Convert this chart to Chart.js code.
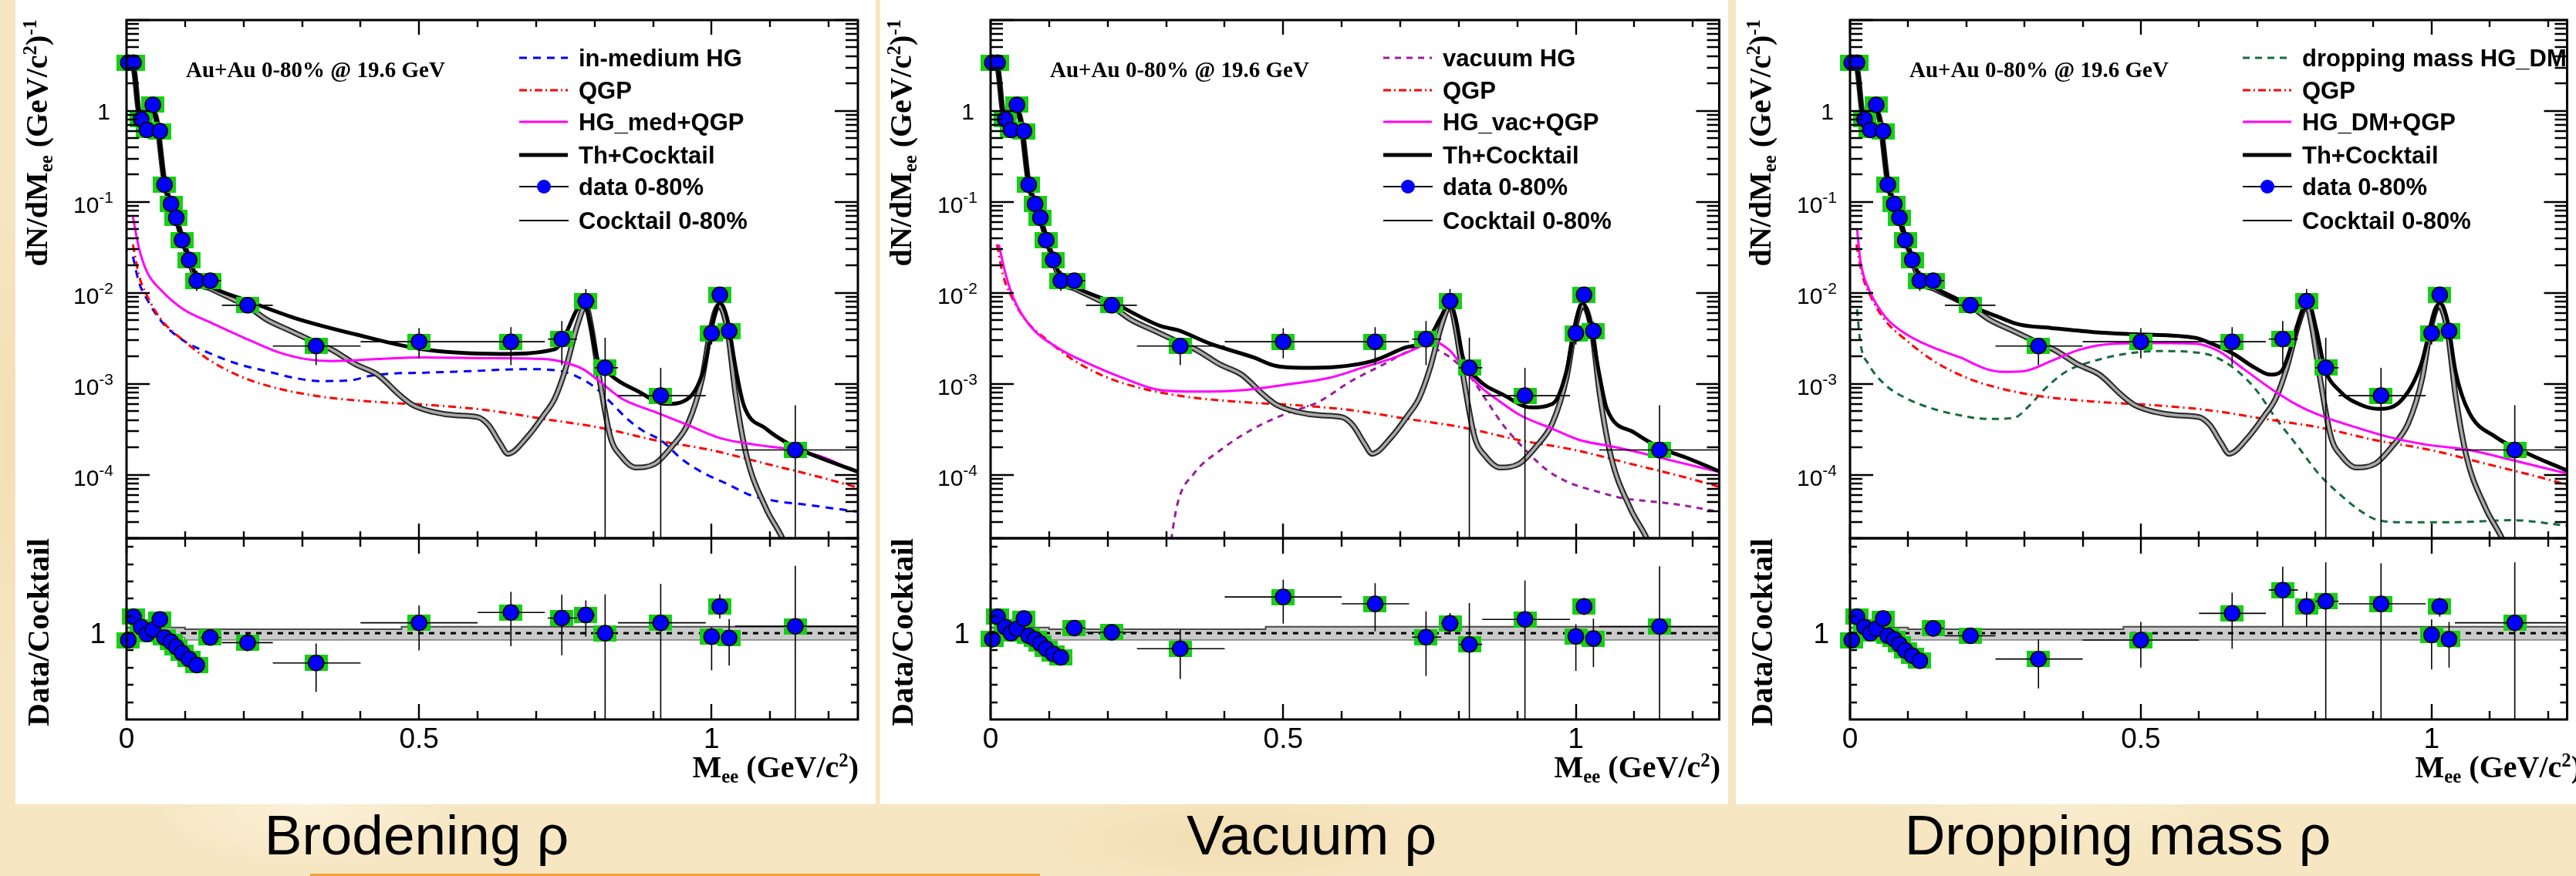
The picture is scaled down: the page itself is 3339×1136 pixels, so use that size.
<!DOCTYPE html>
<html>
<head>
<meta charset="utf-8">
<script src="https://cdn.jsdelivr.net/npm/chart.js@4.4.1/dist/chart.umd.min.js"></script>
<style>
  html, body { margin: 0; padding: 0; }
  body {
    width: 3339px; height: 1136px; overflow: hidden; position: relative;
    background-color: #f6e6c2;
    background-image:
      radial-gradient(ellipse 300px 120px at 12% 92%, rgba(255,250,235,.55), transparent 70%),
      radial-gradient(ellipse 400px 90px at 48% 96%, rgba(236,210,160,.45), transparent 70%),
      radial-gradient(ellipse 350px 110px at 80% 90%, rgba(255,248,228,.5), transparent 70%),
      radial-gradient(ellipse 60px 500px at 0.3% 50%, rgba(240,215,170,.5), transparent 70%);
  }
  .pane { position: absolute; top: 0; height: 1043px; background: #fff; }
  canvas { position: absolute; }
  .abs { position: absolute; white-space: nowrap; }
  .times { font-family: "Liberation Serif", "Times New Roman", serif; font-weight: bold; }
  .ytitle { transform-origin: 0 0; transform: rotate(-90deg); text-align: right; }
  .legrow { position: absolute; display: flex; align-items: center; height: 40px;
    font: bold 31px "Liberation Sans", Arial, sans-serif; white-space: nowrap; line-height: 1; }
  .caption { position: absolute; top: 1046px; font: 73px "Liberation Sans", Arial, sans-serif;
    line-height: 73px; transform: translateX(-50%); white-space: nowrap; color: #000; }
  sub, sup { font-size: 0.62em; line-height: 0; }
  sub { vertical-align: -0.28em; }
  sup { vertical-align: 0.55em; }
</style>
</head>
<body>
<script>
// ---- measured data (same for all three panels) ----
const dataM = [0.003, 0.012, 0.025, 0.035, 0.045, 0.057, 0.065, 0.076, 0.085, 0.095, 0.107, 0.12, 0.143,
  0.207, 0.324, 0.5, 0.657, 0.744, 0.785, 0.818, 0.913, 1.0, 1.014, 1.03, 1.143];
const dataY = [3.4, 3.4, 0.81, 0.62, 1.17, 0.6, 0.155, 0.095, 0.067, 0.038, 0.023, 0.0136, 0.0136,
  0.0073, 0.0026, 0.0029, 0.0029, 0.0031, 0.0081, 0.0015, 0.00074, 0.0036, 0.0095, 0.0038, 0.000187];
const dataYLo = [3.1, 3.1, 0.75, 0.57, 1.08, 0.55, 0.143, 0.087, 0.061, 0.034, 0.02, 0.0105, 0.0115,
  0.0063, 0.0016, 0.0019, 0.0016, 0.0016, 0.0066, 0.000001, 0.000001, 0.0027, 0.0078, 0.003, 0.000001];
const dataYHi = [3.7, 3.7, 0.87, 0.67, 1.26, 0.65, 0.167, 0.103, 0.073, 0.042, 0.026, 0.0175, 0.016,
  0.0085, 0.0032, 0.0041, 0.0042, 0.0049, 0.011, 0.0032, 0.0015, 0.0048, 0.0116, 0.0048, 0.00058];
const dataXLo = [0.003, 0.012, 0.025, 0.035, 0.045, 0.057, 0.065, 0.076, 0.085, 0.095, 0.107, 0.12, 0.127,
  0.163, 0.25, 0.40, 0.60, 0.72, 0.77, 0.80, 0.84, 0.99, 1.01, 1.02, 1.04];
const dataXHi = [0.003, 0.012, 0.025, 0.035, 0.045, 0.057, 0.065, 0.076, 0.085, 0.095, 0.107, 0.12, 0.162,
  0.25, 0.40, 0.60, 0.715, 0.77, 0.80, 0.84, 0.99, 1.01, 1.02, 1.04, 1.25];

// ---- data / cocktail ratios ----
const ratioBrod = [0.92, 1.19, 1.07, 0.99, 1.04, 1.16, 0.95, 0.90, 0.84, 0.77, 0.70, 0.63, 0.95,
  0.89, 0.655, 1.12, 1.24, 1.175, 1.21, 1.0, 1.12, 0.96, 1.31, 0.945, 1.08];
const ratioBrodLo = [0.04, 0.04, 0.04, 0.04, 0.04, 0.04, 0.04, 0.04, 0.04, 0.04, 0.04, 0.05, 0.04,
  0.1, 0.335, 0.32, 0.39, 0.43, 0.25, 1.1, 1.2, 0.39, 0.14, 0.32, 1.1];
const ratioBrodHi = [0.04, 0.04, 0.04, 0.04, 0.04, 0.04, 0.04, 0.04, 0.04, 0.04, 0.04, 0.05, 0.04,
  0.1, 0.225, 0.2, 0.24, 0.27, 0.17, 0.45, 0.45, 0.11, 0.14, 0.22, 0.7];
const ratioVac = [0.93, 1.19, 1.07, 1.0, 1.05, 1.17, 0.97, 0.93, 0.88, 0.82, 0.76, 0.72, 1.06,
  1.01, 0.82, 1.42, 1.34, 0.954, 1.114, 0.87, 1.16, 0.963, 1.31, 0.938, 1.077];
const ratioVacLo = [0.04, 0.04, 0.04, 0.04, 0.04, 0.04, 0.04, 0.04, 0.04, 0.04, 0.04, 0.05, 0.04,
  0.08, 0.35, 0.31, 0.32, 0.45, 0.13, 1.0, 1.2, 0.4, 0.1, 0.33, 1.1];
const ratioVacHi = [0.04, 0.04, 0.04, 0.04, 0.04, 0.04, 0.04, 0.04, 0.04, 0.04, 0.04, 0.05, 0.04,
  0.08, 0.22, 0.2, 0.24, 0.3, 0.12, 0.48, 0.45, 0.14, 0.1, 0.23, 0.7];
const ratioDM = [0.92, 1.19, 1.07, 1.0, 1.05, 1.17, 0.97, 0.93, 0.87, 0.80, 0.74, 0.68, 1.055,
  0.97, 0.70, 0.92, 1.23, 1.5, 1.31, 1.37, 1.34, 0.98, 1.31, 0.93, 1.12];
const ratioDMLo = [0.04, 0.04, 0.04, 0.04, 0.04, 0.04, 0.04, 0.04, 0.04, 0.04, 0.04, 0.05, 0.04,
  0.08, 0.34, 0.32, 0.41, 0.42, 0.23, 1.4, 1.4, 0.4, 0.12, 0.33, 1.2];
const ratioDMHi = [0.04, 0.04, 0.04, 0.04, 0.04, 0.04, 0.04, 0.04, 0.04, 0.04, 0.04, 0.05, 0.04,
  0.08, 0.23, 0.21, 0.24, 0.27, 0.17, 0.45, 0.47, 0.18, 0.1, 0.2, 0.7];

// cocktail systematic band and unity line in the ratio pads
const bandM = [0, 0.1, 0.47, 0.93, 1.25];
const bandHi = [1.065, 1.065, 1.045, 1.075, 1.075];
const bandLo = [0.945, 0.955, 0.925, 0.925, 0.925];
const unityM = [0, 1.25];
const unityY = [1, 1];

// ---- cocktail ----
const cocktailM = [0.005, 0.012, 0.022, 0.035, 0.047, 0.052, 0.065, 0.076, 0.085, 0.095, 0.107, 0.12, 0.144,
  0.182, 0.206, 0.239, 0.277, 0.315, 0.353, 0.391, 0.429, 0.467, 0.49, 0.524, 0.562, 0.6, 0.619, 0.638, 0.652,
  0.685, 0.713, 0.732, 0.751, 0.77, 0.785, 0.794, 0.808, 0.827, 0.846, 0.87, 0.903, 0.932, 0.96, 0.984, 0.998,
  1.012, 1.027, 1.041, 1.06, 1.093, 1.121, 1.14];
const cocktailY = [3.4, 3.0, 0.95, 0.9, 0.95, 0.75, 0.16, 0.095, 0.065, 0.04, 0.023, 0.0135, 0.0111,
  0.0085, 0.0072, 0.0051, 0.0039, 0.003, 0.00233, 0.00164, 0.00126, 0.00075, 0.00058, 0.00049, 0.00045, 0.00043,
  0.00035, 0.000224, 0.00017, 0.00026, 0.00045, 0.00069, 0.0015, 0.0043, 0.0072, 0.0043, 0.00116, 0.00026,
  0.000158, 0.00012, 0.000132, 0.000204, 0.00037, 0.00116, 0.0039, 0.0072, 0.0039, 0.00075, 0.000158,
  0.0000427, 0.00002, 0.00001];

// ---- QGP (common) ----
const qgpM = [0.011, 0.021, 0.035, 0.059, 0.097, 0.144, 0.201, 0.258, 0.334, 0.429, 0.524, 0.619, 0.713,
  0.808, 0.903, 0.998, 1.093, 1.188, 1.25];
const qgpY = [0.034, 0.0158, 0.0093, 0.0051, 0.003, 0.00178, 0.00116, 0.00089, 0.00072, 0.00063, 0.00058,
  0.00051, 0.00041, 0.00033, 0.00024, 0.000187, 0.000132, 0.000093, 0.000072];

// ---- broadening (in-medium) rho ----
const hgMedM = [0.011, 0.021, 0.035, 0.059, 0.097, 0.144, 0.192, 0.239, 0.287, 0.334, 0.391, 0.41, 0.448,
  0.505, 0.59, 0.685, 0.742, 0.77, 0.799, 0.827, 0.856, 0.884, 0.913, 0.951, 0.989, 1.027, 1.065, 1.112,
  1.159, 1.207, 1.25];
const hgMedY = [0.025, 0.0132, 0.0085, 0.0049, 0.003, 0.00214, 0.00164, 0.00138, 0.00116, 0.00107, 0.00111,
  0.0012, 0.00129, 0.00132, 0.00138, 0.00145, 0.00138, 0.0012, 0.00093, 0.00063, 0.00041, 0.0003, 0.00024,
  0.000145, 0.000102, 0.000079, 0.00006, 0.000051, 0.000047, 0.0000427, 0.0000392];
const sumMedM = [0.011, 0.021, 0.035, 0.059, 0.097, 0.144, 0.201, 0.258, 0.306, 0.353, 0.429, 0.505, 0.619,
  0.713, 0.751, 0.78, 0.808, 0.846, 0.903, 0.96, 1.017, 1.074, 1.14, 1.188, 1.25];
const sumMedY = [0.068, 0.0316, 0.017, 0.0107, 0.0066, 0.0047, 0.0032, 0.00224, 0.00187, 0.00178, 0.00187,
  0.00195, 0.00191, 0.00187, 0.0017, 0.00145, 0.00107, 0.00069, 0.00049, 0.00035, 0.00025, 0.000214,
  0.000187, 0.000158, 0.000105];
const thMedM = [0.005, 0.012, 0.022, 0.035, 0.047, 0.052, 0.065, 0.076, 0.085, 0.095, 0.107, 0.12, 0.14,
  0.206, 0.287, 0.391, 0.505, 0.638, 0.732, 0.751, 0.77, 0.782, 0.791, 0.804, 0.827, 0.875, 0.922, 0.96,
  0.989, 1.003, 1.014, 1.027, 1.041, 1.055, 1.093, 1.14, 1.188, 1.25];
const thMedY = [3.4, 3.0, 0.95, 0.9, 0.95, 0.75, 0.16, 0.095, 0.065, 0.04, 0.024, 0.015, 0.012,
  0.0082, 0.0053, 0.0035, 0.0024, 0.00213, 0.0024, 0.0036, 0.0066, 0.0078, 0.0051, 0.00195, 0.00126,
  0.00082, 0.0006, 0.00069, 0.00164, 0.0051, 0.0078, 0.0051, 0.0015, 0.00058, 0.00032, 0.000204,
  0.000151, 0.000108];

// ---- vacuum rho ----
const hgVacM = [0.30, 0.319, 0.347, 0.393, 0.449, 0.505, 0.56, 0.616, 0.672, 0.718, 0.742, 0.765, 0.793,
  0.821, 0.849, 0.876, 0.914, 0.951, 0.988, 1.034, 1.081, 1.127, 1.174, 1.245];
const hgVacY = [0.000008, 0.000047, 0.000102, 0.000187, 0.00032, 0.00047, 0.00063, 0.00107, 0.00164,
  0.00234, 0.0026, 0.00234, 0.00178, 0.00116, 0.00063, 0.00035, 0.000187, 0.000112, 0.000082, 0.000066,
  0.000055, 0.000051, 0.000047, 0.000039];
const sumVacM = [0.014, 0.026, 0.04, 0.068, 0.114, 0.17, 0.226, 0.291, 0.356, 0.43, 0.505, 0.579, 0.635,
  0.691, 0.737, 0.756, 0.784, 0.812, 0.84, 0.867, 0.905, 0.96, 1.007, 1.062, 1.127, 1.174, 1.245];
const sumVacY = [0.034, 0.0158, 0.0085, 0.0043, 0.0025, 0.00164, 0.00116, 0.00085, 0.00082, 0.00085,
  0.00098, 0.00116, 0.0015, 0.00195, 0.0026, 0.0029, 0.00234, 0.00138, 0.00089, 0.00066, 0.00045, 0.00032,
  0.00024, 0.000204, 0.000164, 0.000138, 0.000107];
const thVacM = [0.005, 0.012, 0.022, 0.035, 0.047, 0.052, 0.065, 0.076, 0.085, 0.095, 0.107, 0.12, 0.14,
  0.207, 0.291, 0.319, 0.375, 0.449, 0.486, 0.533, 0.588, 0.653, 0.709, 0.746, 0.77, 0.784, 0.795, 0.807,
  0.83, 0.877, 0.923, 0.96, 0.984, 0.997, 1.011, 1.023, 1.039, 1.053, 1.1, 1.146, 1.192, 1.245];
const thVacY = [3.4, 3.0, 0.95, 0.9, 0.95, 0.75, 0.16, 0.095, 0.065, 0.04, 0.024, 0.015, 0.012,
  0.0079, 0.0043, 0.0039, 0.00276, 0.00195, 0.00158, 0.0015, 0.00153, 0.00178, 0.0025, 0.003, 0.0055,
  0.0078, 0.0051, 0.00195, 0.00116, 0.00075, 0.00055, 0.0006, 0.00138, 0.0039, 0.0078, 0.0051, 0.00138,
  0.00053, 0.00029, 0.000195, 0.000151, 0.000109];

// ---- dropping mass rho ----
const hgDmM = [0.012, 0.018, 0.032, 0.06, 0.097, 0.143, 0.189, 0.235, 0.281, 0.309, 0.336, 0.373, 0.419,
  0.475, 0.53, 0.585, 0.622, 0.659, 0.696, 0.733, 0.77, 0.806, 0.843, 0.88, 0.908, 0.954, 1.037, 1.138, 1.233];
const hgDmY = [0.0066, 0.00276, 0.00164, 0.00098, 0.00069, 0.00053, 0.00045, 0.00041, 0.00042, 0.00058,
  0.00089, 0.00138, 0.00178, 0.00214, 0.00229, 0.00224, 0.00204, 0.0015, 0.00089, 0.00041, 0.000204,
  0.000102, 0.00006, 0.000039, 0.0000316, 0.00003, 0.00003, 0.0000316, 0.0000275];
const sumDmM = [0.012, 0.018, 0.032, 0.06, 0.097, 0.143, 0.189, 0.235, 0.263, 0.3, 0.346, 0.392, 0.438,
  0.493, 0.548, 0.594, 0.631, 0.677, 0.723, 0.77, 0.816, 0.871, 0.926, 0.991, 1.064, 1.138, 1.233];
const sumDmY = [0.051, 0.0222, 0.0111, 0.0055, 0.0035, 0.0025, 0.00195, 0.00145, 0.00135, 0.00138, 0.00178,
  0.00234, 0.0027, 0.0028, 0.0028, 0.00276, 0.00234, 0.00145, 0.00089, 0.00058, 0.00043, 0.00033, 0.00026,
  0.000214, 0.000187, 0.000145, 0.000103];
const thDmM = [0.005, 0.012, 0.022, 0.035, 0.047, 0.052, 0.065, 0.076, 0.085, 0.095, 0.107, 0.12, 0.14,
  0.198, 0.253, 0.29, 0.346, 0.419, 0.493, 0.594, 0.622, 0.659, 0.696, 0.723, 0.742, 0.76, 0.779, 0.788,
  0.802, 0.816, 0.843, 0.88, 0.908, 0.945, 0.982, 1.0, 1.014, 1.028, 1.041, 1.064, 1.11, 1.166, 1.233];
const thDmY = [3.4, 3.0, 0.95, 0.9, 0.95, 0.75, 0.16, 0.095, 0.065, 0.04, 0.024, 0.015, 0.012,
  0.0076, 0.0055, 0.0045, 0.0041, 0.0037, 0.0035, 0.0032, 0.00276, 0.00214, 0.0015, 0.00126, 0.00138,
  0.00276, 0.0066, 0.0078, 0.0039, 0.0015, 0.00082, 0.00058, 0.00053, 0.00063, 0.00164, 0.0047, 0.0078,
  0.0047, 0.00138, 0.00049, 0.00026, 0.00017, 0.000111];

// ---- axis labels ----
const yLabelsUpper = [1e-4, 1e-3, 1e-2, 1e-1, 1];
const yLabelsLower = [1];
const xLabelsLower = [0, 0.5, 1];

const legendBrod = ["in-medium HG", "QGP", "HG_med+QGP", "Th+Cocktail", "data 0-80%", "Cocktail 0-80%"];
const legendVac = ["vacuum HG", "QGP", "HG_vac+QGP", "Th+Cocktail", "data 0-80%", "Cocktail 0-80%"];
const legendDm = ["dropping mass HG_DM", "QGP", "HG_DM+QGP", "Th+Cocktail", "data 0-80%", "Cocktail 0-80%"];

// ---- layout ----
const panels = [
  { white: [20, 1135], axisL: 164, axisR: 1112, xMax: 1.25, titleR: 1113,
    hg: [hgMedM, hgMedY], sum: [sumMedM, sumMedY], th: [thMedM, thMedY],
    hgColor: "#0000ff", hgDash: [10, 8], legend: legendBrod,
    ratio: [ratioBrod, ratioBrodLo, ratioBrodHi], caption: "Brodening ρ", capX: 540 },
  { white: [1141, 2240], axisL: 1284, axisR: 2229, xMax: 1.245, titleR: 2230,
    hg: [hgVacM, hgVacY], sum: [sumVacM, sumVacY], th: [thVacM, thVacY],
    hgColor: "#9a1e9a", hgDash: [8, 7], legend: legendVac,
    ratio: [ratioVac, ratioVacLo, ratioVacHi], caption: "Vacuum ρ", capX: 1700 },
  { white: [2250, 3339], axisL: 2398, axisR: 3335, xMax: 1.233, titleR: 3346,
    hg: [hgDmM, hgDmY], sum: [sumDmM, sumDmY], th: [thDmM, thDmY],
    hgColor: "#166b3e", hgDash: [9, 7], legend: legendDm,
    ratio: [ratioDM, ratioDMLo, ratioDMHi], caption: "Dropping mass ρ", capX: 2745 },
];

const UP_TOP = 0, UP_H = 712, LO_TOP = 684, LO_H = 359;
const FRAME_TOP = 26, DIVIDER = 698, LO_BOTTOM = 933;
const SANS = '"Liberation Sans", Arial, sans-serif';

function pts(xs, ys) {
  return xs.map((x, i) => ({ x, y: ys[i] }));
}
function vSegs(xs, lo, hi) {
  const out = [];
  xs.forEach((x, i) => { out.push({ x, y: lo[i] }, { x, y: hi[i] }, { x, y: null }); });
  return out;
}
function hSegs(ys, xlo, xhi) {
  const out = [];
  ys.forEach((y, i) => { out.push({ x: xlo[i], y }, { x: xhi[i], y }, { x: xhi[i], y: null }); });
  return out;
}
function curve(xs, ys, color, width, dash, order) {
  return { data: pts(xs, ys), borderColor: color, borderWidth: width, borderDash: dash,
    pointRadius: 0, fill: false, cubicInterpolationMode: "monotone", order, clip: 0 };
}
function segs(data, order) {
  return { data, borderColor: "#000", borderWidth: 1.6, pointRadius: 0, tension: 0, fill: false, order, clip: 0 };
}

const boxImg = document.createElement("canvas");
boxImg.width = 30; boxImg.height = 21;
(function () {
  const c = boxImg.getContext("2d");
  c.fillStyle = "#16cf16";
  c.fillRect(0, 0, 30, 21);
})();

function markers(xs, ys, order) {
  return { data: pts(xs, ys), showLine: false, pointRadius: 10, pointStyle: "circle",
    pointBackgroundColor: "#0000ff", pointBorderColor: "#000", pointBorderWidth: 1.5, order, clip: false };
}
function boxes(xs, ys, order) {
  return { data: pts(xs, ys), showLine: false, pointRadius: 1, pointStyle: boxImg, order, clip: false };
}

// ROOT-like frame: inward ticks on all four sides plus labels
const rootFrame = {
  id: "rootFrame",
  afterDraw(chart, args, o) {
    const { ctx, chartArea: a } = chart;
    const xs = chart.scales.x, ys = chart.scales.y;
    ctx.save();
    ctx.strokeStyle = "#000";
    ctx.lineWidth = 2.4;
    ctx.beginPath();
    for (let k = 0; k <= Math.floor(xs.max * 10 + 1e-6); k++) {
      const px = Math.round(xs.getPixelForValue(k / 10));
      const len = k % 5 === 0 ? o.xMajor : o.xMinor;
      ctx.moveTo(px, a.bottom); ctx.lineTo(px, a.bottom - len);
      ctx.moveTo(px, a.top); ctx.lineTo(px, a.top + len);
    }
    const yt = [];
    if (o.log) {
      for (let e = -5; e <= 1; e++) {
        for (let m = 1; m <= 9; m++) {
          const v = m * Math.pow(10, e);
          if (v >= ys.min * 0.999 && v <= ys.max * 1.001) yt.push({ v, len: m === 1 ? 30 : 16 });
        }
      }
    } else {
      for (let k = 1; k <= 10; k++) yt.push({ v: k * 0.2, len: 9 });
    }
    yt.forEach((t) => {
      const py = Math.round(ys.getPixelForValue(t.v));
      ctx.moveTo(a.left, py); ctx.lineTo(a.left + t.len, py);
      ctx.moveTo(a.right, py); ctx.lineTo(a.right - t.len, py);
    });
    ctx.stroke();
    ctx.lineWidth = 3;
    ctx.strokeRect(a.left, a.top, a.right - a.left, a.bottom - a.top);

    ctx.fillStyle = "#000";
    if (o.log) {
      o.yLabels.forEach((v) => {
        const py = ys.getPixelForValue(v);
        const e = Math.round(Math.log10(v));
        ctx.textAlign = "right";
        if (e === 0) {
          ctx.font = "30px " + SANS;
          ctx.fillText("1", a.left - 21, py + 11);
        } else {
          const sup = "-" + Math.abs(e);
          ctx.font = "21px " + SANS;
          const w = ctx.measureText(sup).width;
          ctx.fillText(sup, a.left - 17, py + 1);
          ctx.font = "30px " + SANS;
          ctx.fillText("10", a.left - 17 - w, py + 14);
        }
      });
    } else {
      ctx.font = "37px " + SANS;
      ctx.textAlign = "right";
      o.yLabels.forEach((v) => {
        ctx.fillText(String(v), a.left - 27, ys.getPixelForValue(v) + 13);
      });
      ctx.textAlign = "center";
      o.xLabels.forEach((v) => {
        ctx.fillText(String(v), xs.getPixelForValue(v), a.bottom + 37);
      });
    }
    ctx.restore();
  },
};

function addCanvas(left, top, w, h) {
  const c = document.createElement("canvas");
  c.width = w; c.height = h;
  c.style.left = left + "px"; c.style.top = top + "px";
  c.style.width = w + "px"; c.style.height = h + "px";
  document.body.appendChild(c);
  return c;
}

function baseOptions(p, padTop, padBottom, w, yScale, frameOpts) {
  return {
    responsive: false, animation: false, events: [], devicePixelRatio: 1,
    layout: { padding: { left: p.axisL - p.white[0], right: p.white[0] + w - p.axisR, top: padTop, bottom: padBottom } },
    scales: { x: { type: "linear", min: 0, max: p.xMax, display: false }, y: yScale },
    plugins: { legend: { display: false }, tooltip: { enabled: false }, rootFrame: frameOpts },
  };
}

function el(tag, cls, html, style) {
  const d = document.createElement(tag);
  if (cls) d.className = cls;
  d.innerHTML = html;
  Object.assign(d.style, style);
  document.body.appendChild(d);
  return d;
}

function sampleSvg(kind, color, dash) {
  const w = 66;
  let s = `<svg width="${w}" height="40" style="display:block">`;
  if (kind === 0) s += `<line x1="0" y1="20" x2="63" y2="20" stroke="${color}" stroke-width="3" stroke-dasharray="${dash.join(" ")}"/>`;
  if (kind === 1) s += `<line x1="0" y1="20" x2="63" y2="20" stroke="#ff0000" stroke-width="3" stroke-dasharray="10 4 2 4"/>`;
  if (kind === 2) s += `<line x1="0" y1="20" x2="63" y2="20" stroke="#ff00ff" stroke-width="3"/>`;
  if (kind === 3) s += `<line x1="0" y1="20" x2="63" y2="20" stroke="#000" stroke-width="5"/>`;
  if (kind === 4) s += `<line x1="0" y1="20" x2="64" y2="20" stroke="#000" stroke-width="2"/><circle cx="32" cy="20" r="9" fill="#0000ff"/>`;
  if (kind === 5) s += `<line x1="0" y1="20" x2="64" y2="20" stroke="#000" stroke-width="2"/>`;
  return s + "</svg>";
}

const legendRowY = [75, 117, 158, 201, 242, 286];

panels.forEach((p) => {
  const w = p.white[1] - p.white[0];
  el("div", "pane", "", { left: p.white[0] + "px", width: w + "px" });

  // upper pad
  const cu = addCanvas(p.white[0], UP_TOP, w, UP_H);
  new Chart(cu, {
    type: "line",
    data: {
      datasets: [
        markers(dataM, dataY, 0),
        segs(vSegs(dataM, dataYLo, dataYHi), 1),
        segs(hSegs(dataY, dataXLo, dataXHi), 1),
        boxes(dataM, dataY, 2),
        curve(p.th[0], p.th[1], "#000", 5, [], 3),
        curve(p.sum[0], p.sum[1], "#ff00ff", 3, [], 4),
        curve(cocktailM, cocktailY, "#a9a9a9", 3.5, [], 5),
        curve(cocktailM, cocktailY, "#262626", 7.5, [], 6),
        curve(qgpM, qgpY, "#ff0000", 3, [10, 5, 2, 5], 7),
        curve(p.hg[0], p.hg[1], p.hgColor, 3, p.hgDash, 8),
      ],
    },
    options: baseOptions(p, FRAME_TOP - UP_TOP, UP_TOP + UP_H - DIVIDER, w,
      { type: "logarithmic", min: 2e-5, max: 10, display: false },
      { log: true, xMajor: 19, xMinor: 9, yLabels: yLabelsUpper }),
    plugins: [rootFrame],
  });

  // lower (ratio) pad
  const [r, rLo, rHi] = p.ratio;
  const lo = r.map((v, i) => v - rLo[i]);
  const hi = r.map((v, i) => v + rHi[i]);
  const cl = addCanvas(p.white[0], LO_TOP, w, LO_H);
  new Chart(cl, {
    type: "line",
    data: {
      datasets: [
        markers(dataM, r, 0),
        segs(vSegs(dataM, lo, hi), 1),
        segs(hSegs(r, dataXLo, dataXHi), 1),
        boxes(dataM, r, 2),
        { data: pts(unityM, unityY), borderColor: "#000", borderWidth: 3, borderDash: [7, 7], pointRadius: 0, order: 3, clip: 0 },
        { data: pts(bandM, bandHi), borderColor: "#4a4a4a", borderWidth: 2, pointRadius: 0, stepped: "after",
          fill: "+1", backgroundColor: "#cacaca", order: 4, clip: 0 },
        { data: pts(bandM, bandLo), borderColor: "#4a4a4a", borderWidth: 2, pointRadius: 0, stepped: "after",
          fill: false, order: 5, clip: 0 },
      ],
    },
    options: baseOptions(p, DIVIDER - LO_TOP, LO_TOP + LO_H - LO_BOTTOM, w,
      { type: "linear", min: 0, max: 2.1, display: false },
      { log: false, xMajor: 20, xMinor: 11, yLabels: yLabelsLower, xLabels: xLabelsLower }),
    plugins: [rootFrame],
  });

  // axis titles
  el("div", "abs times ytitle", "dN/dM<sub>ee</sub> (GeV/c<sup>2</sup>)<sup>-1</sup>",
    { left: (p.axisL - 136) + "px", top: (25 + 420) + "px", width: "420px", fontSize: "40px", lineHeight: "40px" });
  el("div", "abs times ytitle", "Data/Cocktail",
    { left: (p.axisL - 135) + "px", top: (698 + 300) + "px", width: "300px", fontSize: "41px", lineHeight: "40px" });
  el("div", "abs times", "M<sub>ee</sub> (GeV/c<sup>2</sup>)",
    { left: (p.titleR - 320) + "px", width: "320px", textAlign: "right", top: "975px", fontSize: "40px", lineHeight: "40px" });
  el("div", "abs times", "Au+Au 0-80% @ 19.6 GeV",
    { left: (p.axisL + 77) + "px", top: "76px", fontSize: "29px", lineHeight: "29px" });

  // legend
  p.legend.forEach((txt, i) => {
    el("div", "legrow",
      sampleSvg(i, p.hgColor, p.hgDash) + `<span style="margin-left:${586 - 509 - 66}px">${txt}</span>`,
      { left: (p.axisL + 509) + "px", top: (legendRowY[i] - 20) + "px" });
  });

  el("div", "caption", p.caption, { left: p.capX + "px" });
});

el("div", "abs", "", { left: "402px", top: "1133px", width: "946px", height: "3px", background: "#f0a23c" });
</script>
</body>
</html>
